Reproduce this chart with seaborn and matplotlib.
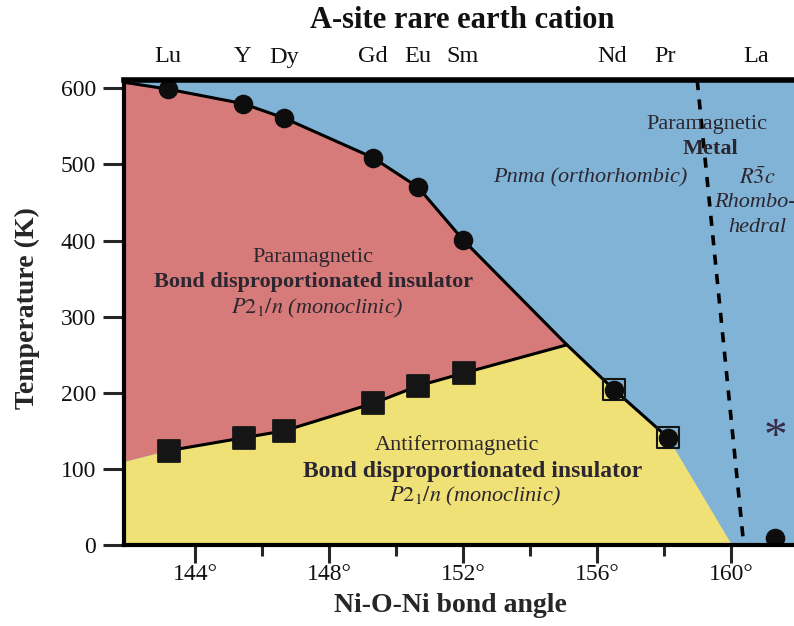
import matplotlib
matplotlib.use("Agg")
import matplotlib.pyplot as plt
import seaborn as sns
import pandas as pd

# ---------------- data ----------------
cations = ["Lu", "Y", "Dy", "Gd", "Eu", "Sm", "Nd", "Pr", "La"]
cation_angle = [143.19, 145.43, 146.66, 149.31, 150.66, 152.0, 156.45, 158.03, 160.75]

# metal-insulator transition (circles)
tmi_angle = [143.19, 145.43, 146.66, 149.31, 150.66, 152.0, 156.51, 158.12, 161.31]
tmi_temp = [599, 580, 561, 509, 470, 401, 204, 141, 9]

# Neel transition (squares)
tn_angle = [143.22, 145.46, 146.66, 149.31, 150.66, 152.03, 156.51, 158.12]
tn_temp = [124, 141, 150, 186, 209, 226, 204, 141]

# phase boundary extras (edges / junction)
upper_edge = (141.88, 608)
lower_edge = (141.88, 109)
junction = (155.10, 263)
yellow_end = (160.03, 0)
struct_line_angle = [158.99, 160.38]
struct_line_temp = [611, 0]

xticks_major = [144, 148, 152, 156, 160]
xticks_minor = [146, 150, 154, 158]
yticks = [0, 100, 200, 300, 400, 500, 600]

RED = "#d77b7a"
BLUE = "#80b3d5"
YELLOW = "#efe176"
TXT = "#2b2630"

sns.set_theme(style="white")
plt.rcParams["font.family"] = ["Liberation Serif", "DejaVu Serif"]
plt.rcParams["mathtext.fontset"] = "stix"

fig = plt.figure(figsize=(7.94, 6.26), dpi=100)
ax = fig.add_axes([124 / 794, (626 - 545) / 626, 670 / 794, (545 - 80) / 626])
ax.set_facecolor(BLUE)
ax.set_xlim(141.88, 161.88)
ax.set_ylim(0, 611)

# red region
red_x = [upper_edge[0]] + tmi_angle[:6] + [junction[0]] + tn_angle[:6][::-1] + [lower_edge[0]]
red_y = [upper_edge[1]] + tmi_temp[:6] + [junction[1]] + tn_temp[:6][::-1] + [lower_edge[1]]
ax.fill(red_x, red_y, color=RED, lw=0, zorder=1)

# yellow region
yel_x = [lower_edge[0]] + tn_angle[:6] + [junction[0]] + tmi_angle[6:8] + [yellow_end[0], 141.88]
yel_y = [lower_edge[1]] + tn_temp[:6] + [junction[1]] + tmi_temp[6:8] + [yellow_end[1], 0]
ax.fill(yel_x, yel_y, color=YELLOW, lw=0, zorder=1)

# boundary lines
up_df = pd.DataFrame({"x": [upper_edge[0]] + tmi_angle[:6] + [junction[0]] + tmi_angle[6:8],
                      "y": [upper_edge[1]] + tmi_temp[:6] + [junction[1]] + tmi_temp[6:8]})
sns.lineplot(data=up_df, x="x", y="y", sort=False, color="black", lw=2.2, ax=ax, zorder=3)
lo_df = pd.DataFrame({"x": tn_angle[:6] + [junction[0]], "y": tn_temp[:6] + [junction[1]]})
sns.lineplot(data=lo_df, x="x", y="y", sort=False, color="black", lw=2.2, ax=ax, zorder=3)

# structural transition (dashed)
st_df = pd.DataFrame({"x": struct_line_angle, "y": struct_line_temp})
sns.lineplot(data=st_df, x="x", y="y", sort=False, color="black", lw=2.6,
             linestyle=(0, (2.8, 2.6)), ax=ax, zorder=3)

# squares (Neel)
sq_df = pd.DataFrame({"x": tn_angle[:6], "y": tn_temp[:6]})
sns.scatterplot(data=sq_df, x="x", y="y", marker="s", s=250, color="#151515",
                edgecolor="#151515", ax=ax, zorder=5)
sq2_df = pd.DataFrame({"x": tn_angle[6:], "y": tn_temp[6:]})
sns.scatterplot(data=sq2_df, x="x", y="y", marker="s", s=235, facecolor="none",
                edgecolor="#151515", linewidth=1.5, ax=ax, zorder=5)
# circles (MIT)
ci_df = pd.DataFrame({"x": tmi_angle, "y": tmi_temp})
sns.scatterplot(data=ci_df, x="x", y="y", marker="o", s=170, color="#0d0d0d",
                edgecolor="#0d0d0d", ax=ax, zorder=6)

# axes styling
for side in ["left", "bottom"]:
    ax.spines[side].set_linewidth(3)
    ax.spines[side].set_color("black")
ax.spines["top"].set_linewidth(4)
ax.spines["top"].set_color("black")
ax.spines["right"].set_visible(False)
for sp in ax.spines.values():
    sp.set_zorder(10)

ax.set_xticks(xticks_major)
ax.set_xticks(xticks_minor, minor=True)
ax.set_xticklabels([f"{t}°" for t in xticks_major], fontsize=17, color="#111")
ax.set_yticks(yticks)
ax.set_yticklabels([str(t) for t in yticks], fontsize=17, color="#111")
ax.tick_params(axis="x", which="major", direction="out", length=13, width=2.2, pad=1, bottom=True)
ax.tick_params(axis="x", which="minor", direction="out", length=8, width=2.2, bottom=True)
ax.tick_params(axis="y", which="major", direction="out", length=15, width=2.2, pad=5, left=True)

ax.set_xlabel("Ni-O-Ni bond angle", fontsize=20, fontweight="bold")
ax.set_ylabel("Temperature (K)", fontsize=20, fontweight="bold")
ax.xaxis.set_label_coords((450 - 124) / 670, -(593 - 545) / 465)
ax.yaxis.set_label_coords(-(124 - 40) / 670, (545 - 308) / 465)

# top cation labels
for lab, xv in zip(cations, cation_angle):
    ax.text(xv, 1.0 + 23 / 465, lab, transform=ax.get_xaxis_transform(), ha="center",
            va="center", fontsize=17.5, color="#111", clip_on=False)
fig.text(462 / 794, 1 - 20 / 626, "A-site rare earth cation", ha="center", va="center",
         fontsize=22, fontweight="bold", color="#111")

# region annotations
def put(x, y, s, **kw):
    kw.setdefault("fontsize", 16)
    kw.setdefault("color", TXT)
    ax.text(x, y, s, ha="center", va="center", zorder=8, **kw)

put(147.51, 378, "Paramagnetic")
put(147.55, 346, "Bond disproportionated insulator", fontweight="bold")
put(147.64, 311, r"$P2_1/n$ (monoclinic)", style="italic")
put(151.82, 131, "Antiferromagnetic")
put(152.30, 96, "Bond disproportionated insulator", fontweight="bold", fontsize=17)
put(152.36, 64, r"$P2_1/n$ (monoclinic)", style="italic")
put(159.28, 553, "Paramagnetic")
put(159.40, 520, "Metal", fontweight="bold")
put(155.79, 483, "Pnma (orthorhombic)", style="italic")
put(160.78, 482, r"$R\bar{3}c$")
put(160.70, 450, "Rhombo-", style="italic")
put(160.78, 417, "hedral", style="italic")
put(161.34, 139, "*", fontsize=34, color="#3a2a4a")

fig.savefig("out.png", dpi=100)
